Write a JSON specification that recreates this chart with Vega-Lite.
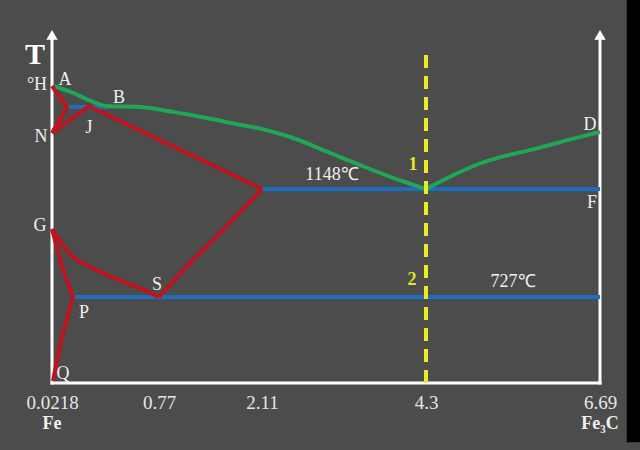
{
  "$schema": "https://vega.github.io/schema/vega-lite/v6.json",
  "width": 548,
  "height": 353,
  "autosize": {"type": "none"},
  "padding": {"left": 52, "top": 30, "right": 40, "bottom": 67},
  "background": "#4c4c4c",
  "config": {"view": {"stroke": null}},
  "datasets": {
    "curves": [
      {"s": "hjb", "col": "blue", "o": 1, "x": 0.127, "y": 1495},
      {"s": "hjb", "col": "blue", "o": 2, "x": 0.42, "y": 1495},
      {"s": "ecf", "col": "blue", "o": 1, "x": 2.11, "y": 1148},
      {"s": "ecf", "col": "blue", "o": 2, "x": 6.69, "y": 1148},
      {"s": "psk", "col": "blue", "o": 1, "x": 0.183, "y": 727},
      {"s": "psk", "col": "blue", "o": 2, "x": 6.69, "y": 727},

      {"s": "abc", "col": "green", "o": 1, "x": 0.029, "y": 1538},
      {"s": "abc", "col": "green", "o": 2, "x": 0.169, "y": 1524},
      {"s": "abc", "col": "green", "o": 3, "x": 0.287, "y": 1508},
      {"s": "abc", "col": "green", "o": 4, "x": 0.406, "y": 1497},
      {"s": "abc", "col": "green", "o": 5, "x": 0.637, "y": 1495},
      {"s": "abc", "col": "green", "o": 6, "x": 0.952, "y": 1476},
      {"s": "abc", "col": "green", "o": 7, "x": 1.394, "y": 1452},
      {"s": "abc", "col": "green", "o": 8, "x": 1.824, "y": 1426},
      {"s": "abc", "col": "green", "o": 9, "x": 2.084, "y": 1411},
      {"s": "abc", "col": "green", "o": 10, "x": 2.35, "y": 1390},
      {"s": "abc", "col": "green", "o": 11, "x": 2.524, "y": 1372},
      {"s": "abc", "col": "green", "o": 12, "x": 2.978, "y": 1312},
      {"s": "abc", "col": "green", "o": 13, "x": 3.419, "y": 1253},
      {"s": "abc", "col": "green", "o": 14, "x": 3.859, "y": 1197},
      {"s": "abc", "col": "green", "o": 15, "x": 4.3, "y": 1148},
      {"s": "cd", "col": "green", "o": 1, "x": 4.3, "y": 1148},
      {"s": "cd", "col": "green", "o": 2, "x": 4.63, "y": 1202},
      {"s": "cd", "col": "green", "o": 3, "x": 5.042, "y": 1260},
      {"s": "cd", "col": "green", "o": 4, "x": 5.866, "y": 1330},
      {"s": "cd", "col": "green", "o": 5, "x": 6.415, "y": 1377},
      {"s": "cd", "col": "green", "o": 6, "x": 6.69, "y": 1398},

      {"s": "hn", "col": "red", "o": 1, "x": 0.0218, "y": 1538},
      {"s": "hn", "col": "red", "o": 2, "x": 0.127, "y": 1495},
      {"s": "hn", "col": "red", "o": 3, "x": 0.0218, "y": 1394},
      {"s": "nje", "col": "red", "o": 1, "x": 0.0218, "y": 1394},
      {"s": "nje", "col": "red", "o": 2, "x": 0.28, "y": 1497},
      {"s": "nje", "col": "red", "o": 3, "x": 2.11, "y": 1148},
      {"s": "es", "col": "red", "o": 1, "x": 0.77, "y": 727},
      {"s": "es", "col": "red", "o": 2, "x": 1.173, "y": 819},
      {"s": "es", "col": "red", "o": 3, "x": 1.603, "y": 909},
      {"s": "es", "col": "red", "o": 4, "x": 1.915, "y": 1054},
      {"s": "es", "col": "red", "o": 5, "x": 2.11, "y": 1148},
      {"s": "gs", "col": "red", "o": 1, "x": 0.0218, "y": 912},
      {"s": "gs", "col": "red", "o": 2, "x": 0.169, "y": 836},
      {"s": "gs", "col": "red", "o": 3, "x": 0.406, "y": 787},
      {"s": "gs", "col": "red", "o": 4, "x": 0.637, "y": 751},
      {"s": "gs", "col": "red", "o": 5, "x": 0.77, "y": 727},
      {"s": "gp", "col": "red", "o": 1, "x": 0.0218, "y": 912},
      {"s": "gp", "col": "red", "o": 2, "x": 0.092, "y": 809},
      {"s": "gp", "col": "red", "o": 3, "x": 0.169, "y": 727},
      {"s": "pq", "col": "red", "o": 1, "x": 0.169, "y": 727},
      {"s": "pq", "col": "red", "o": 2, "x": 0.099, "y": 423},
      {"s": "pq", "col": "red", "o": 3, "x": 0.057, "y": 194},
      {"s": "pq", "col": "red", "o": 4, "x": 0.029, "y": 17}
    ],
    "frame": [
      {"x": 0.0218, "x2": 0.0218, "y": 0, "y2": 1680},
      {"x": 6.69, "x2": 6.69, "y": 0, "y2": 1680},
      {"x": 0.0218, "x2": 6.69, "y": 0, "y2": 0}
    ],
    "arrows": [
      {"x": 0.0218, "y": 1686},
      {"x": 6.69, "y": 1686}
    ],
    "guide": [
      {"x": 4.3, "y": 1628, "y2": 0}
    ],
    "edge": [
      {"x": 7.25, "y": -500, "y2": 1950}
    ],
    "labels": [
      {"t": "A", "kind": "w", "x": 0.113, "y": 1555},
      {"t": "°H", "kind": "w", "x": -0.083, "y": 1541},
      {"t": "B", "kind": "w", "x": 0.49, "y": 1513},
      {"t": "J", "kind": "w", "x": 0.28, "y": 1413},
      {"t": "N", "kind": "w", "x": -0.055, "y": 1376},
      {"t": "G", "kind": "w", "x": -0.062, "y": 930},
      {"t": "S", "kind": "w", "x": 0.756, "y": 760},
      {"t": "P", "kind": "w", "x": 0.245, "y": 592},
      {"t": "Q", "kind": "w", "x": 0.099, "y": 75},
      {"t": "D", "kind": "w", "x": 6.553, "y": 1425},
      {"t": "F", "kind": "w", "x": 6.58, "y": 1065},
      {"t": "1148℃", "kind": "w", "x": 3.045, "y": 1209},
      {"t": "727℃", "kind": "w", "x": 5.495, "y": 768},
      {"t": "1", "kind": "y", "x": 4.126, "y": 1253},
      {"t": "2", "kind": "y", "x": 4.113, "y": 773},
      {"t": "T", "kind": "T", "x": -0.097, "y": 1628}
    ],
    "base": [
      {"t": "Fe", "x": 0.0218, "y": 0},
      {"t": "Fe₃C", "x": 6.69, "y": 0}
    ]
  },
  "encoding": {
    "x": {
      "field": "x", "type": "quantitative",
      "scale": {"domain": [0.0218, 0.77, 2.11, 4.3, 6.69], "range": [0, 107, 210, 374, 548], "nice": false, "zero": false},
      "axis": {
        "values": [0.0218, 0.77, 2.11, 4.3, 6.69],
        "labelExpr": "'' + datum.value",
        "domain": false, "ticks": false, "grid": false, "title": null,
        "labelFont": "Liberation Serif", "labelFontSize": 19, "labelColor": "#e6e6e6",
        "labelPadding": 10, "labelFlush": false, "labelOverlap": false
      }
    },
    "y": {
      "field": "y", "type": "quantitative",
      "scale": {"domain": [0, 727, 912, 1148, 1394, 1495, 1538, 1700], "range": [353, 267, 199, 159, 103, 77, 56, 0], "nice": false, "zero": false},
      "axis": null
    }
  },
  "layer": [
    {
      "data": {"name": "edge"},
      "mark": {"type": "rule", "color": "#000000", "strokeWidth": 28, "clip": false},
      "encoding": {"y2": {"field": "y2"}}
    },
    {
      "data": {"name": "frame"},
      "mark": {"type": "rule", "color": "#ffffff", "strokeWidth": 3, "strokeCap": "square"},
      "encoding": {"x2": {"field": "x2"}, "y2": {"field": "y2"}}
    },
    {
      "data": {"name": "arrows"},
      "mark": {"type": "point", "shape": "triangle-up", "filled": true, "color": "#ffffff", "size": 130, "opacity": 1}
    },
    {
      "data": {"name": "curves"},
      "transform": [{"filter": "datum.col == 'blue'"}],
      "mark": {"type": "line", "color": "#1c6cc0", "strokeWidth": 4},
      "encoding": {"detail": {"field": "s"}, "order": {"field": "o", "type": "quantitative"}}
    },
    {
      "data": {"name": "curves"},
      "transform": [{"filter": "datum.col == 'green'"}],
      "mark": {"type": "line", "color": "#1fa656", "strokeWidth": 4, "interpolate": "monotone"},
      "encoding": {"detail": {"field": "s"}, "order": {"field": "o", "type": "quantitative"}}
    },
    {
      "data": {"name": "curves"},
      "transform": [{"filter": "datum.col == 'red' && indexof(['es','gs','pq'], datum.s) >= 0"}],
      "mark": {"type": "line", "color": "#bf1420", "strokeWidth": 4, "interpolate": "cardinal", "tension": 0.3},
      "encoding": {"detail": {"field": "s"}, "order": {"field": "o", "type": "quantitative"}}
    },
    {
      "data": {"name": "curves"},
      "transform": [{"filter": "datum.col == 'red' && indexof(['es','gs','pq'], datum.s) < 0"}],
      "mark": {"type": "line", "color": "#bf1420", "strokeWidth": 4},
      "encoding": {"detail": {"field": "s"}, "order": {"field": "o", "type": "quantitative"}}
    },
    {
      "data": {"name": "guide"},
      "mark": {"type": "rule", "color": "#ecec26", "strokeWidth": 4, "strokeDash": [13, 8]},
      "encoding": {"y2": {"field": "y2"}}
    },
    {
      "data": {"name": "labels"},
      "transform": [{"filter": "datum.kind == 'w'"}],
      "mark": {"type": "text", "font": "Liberation Serif", "fontSize": 18, "color": "#f0f0f0", "align": "center", "baseline": "middle"},
      "encoding": {"text": {"field": "t"}}
    },
    {
      "data": {"name": "labels"},
      "transform": [{"filter": "datum.kind == 'y'"}],
      "mark": {"type": "text", "font": "Liberation Serif", "fontSize": 18, "fontWeight": "bold", "color": "#e4e424", "align": "center", "baseline": "middle"},
      "encoding": {"text": {"field": "t"}}
    },
    {
      "data": {"name": "labels"},
      "transform": [{"filter": "datum.kind == 'T'"}],
      "mark": {"type": "text", "font": "Liberation Serif", "fontSize": 30, "fontWeight": "bold", "color": "#ffffff", "align": "center", "baseline": "middle"},
      "encoding": {"text": {"field": "t"}}
    },
    {
      "data": {"name": "base"},
      "mark": {"type": "text", "font": "Liberation Serif", "fontSize": 18, "fontWeight": "bold", "color": "#f0f0f0", "align": "center", "baseline": "middle", "dy": 41},
      "encoding": {"text": {"field": "t"}}
    }
  ]
}
